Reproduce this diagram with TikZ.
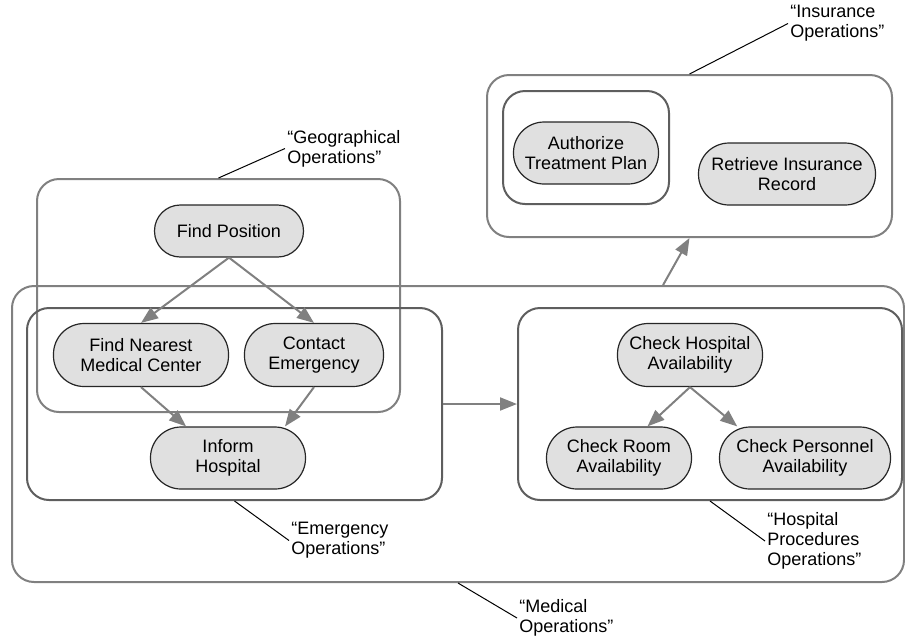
\documentclass[tikz,border=0pt]{standalone}
\usepackage{fontspec}
\setmainfont{Liberation Sans}
\usepackage{tikz}
\usetikzlibrary{arrows.meta}
\tikzstyle{op}=[shape=rectangle,rounded corners=15.3pt,draw=black!85,fill=black!12,line width=0.6pt,align=center,inner sep=0pt]
\tikzstyle{grp}=[shape=rectangle,rounded corners=11pt,draw=black!50,line width=1pt]
\tikzstyle{grpd}=[grp,draw=black!63]
\tikzstyle{to}=[-{Triangle[length=8.5pt,width=6.5pt]},draw=black!50,line width=1pt]
\tikzstyle{lead}=[black,line width=0.5pt]
\tikzstyle{lbl}=[anchor=west,align=left,inner sep=1pt]

\begin{document}
\begin{tikzpicture}[x=0.5pt,y=-0.5pt,font=\fontsize{9}{10}\selectfont]
    \useasboundingbox (0, 0) rectangle (905, 639);
        % groups
        \node[grp, minimum width=202.5pt, minimum height=81pt] (IO) at (689.5, 156) {};
        \node[grpd, minimum width=83pt, minimum height=56.5pt] (AB) at (586, 147.5) {};
        \node[grp, minimum width=181.5pt, minimum height=116.5pt] (GO) at (218.5, 295.5) {};
        \node[grp, minimum width=446pt, minimum height=148pt] (MO) at (458, 434) {};
        \node[grpd, minimum width=207.5pt, minimum height=96pt] (EO) at (234.5, 404) {};
        \node[grpd, minimum width=192pt, minimum height=96pt] (HO) at (710, 404) {};

        % operations
        \node[op, minimum width=72.5pt, minimum height=31pt] (AT) at (586, 153) {Authorize\\Treatment Plan};
        \node[op, minimum width=88.5pt, minimum height=31pt] (RI) at (787, 174) {Retrieve Insurance\\Record};
        \node[op, rounded corners=12.9pt, minimum width=74.5pt, minimum height=26pt] (FP) at (229, 231) {Find Position};
        \node[op, minimum width=87.5pt, minimum height=31.5pt] (FN) at (141, 355) {Find Nearest\\Medical Center};
        \node[op, minimum width=69.5pt, minimum height=31.5pt] (CE) at (314, 355) {Contact\\Emergency};
        \node[op, minimum width=77.5pt, minimum height=31pt] (IH) at (228, 458) {Inform\\Hospital};
        \node[op, minimum width=72.5pt, minimum height=31.5pt] (CH) at (690, 355) {Check Hospital\\Availability};
        \node[op, minimum width=72.5pt, minimum height=31pt] (CR) at (619, 458) {Check Room\\Availability};
        \node[op, minimum width=85.5pt, minimum height=31pt] (CP) at (805, 458) {Check Personnel\\Availability};

        \draw[to] (FP.south) -- (FN.north);
        \draw[to] (FP.south) -- (CE.north);
        \draw[to] (FN.south) -- (IH.143);
        \draw[to] (CE.south) -- (IH.29);
        \draw[to] (CH.south) -- (CR.48);
        \draw[to] (CH.south) -- (CP.155);
        \draw[to] (EO.east) -- (HO.west);
        \draw[to] (MO.36.5) -- (IO.south);

        % labels
        \node[lbl] (IL) at (788, 23.5) {“Insurance\\Operations”};
        \node[lbl] (GL) at (285, 148.5) {“Geographical\\Operations”};
        \node[lbl] (EL) at (289, 540.5) {“Emergency\\Operations”};
        \node[lbl] (HL) at (765, 541) {“Hospital\\Procedures\\Operations”};
        \node[lbl] (ML) at (517, 618) {“Medical\\Operations”};
        \draw[lead] (IO.north) -- (IL.west);
        \draw[lead] (GO.north) -- (GL.west);
        \draw[lead] (EO.south) -- (EL.west);
        \draw[lead] (HO.south) -- (HL.west);
        \draw[lead] (MO.south) -- (ML.west);
    \end{tikzpicture}
\end{document}
